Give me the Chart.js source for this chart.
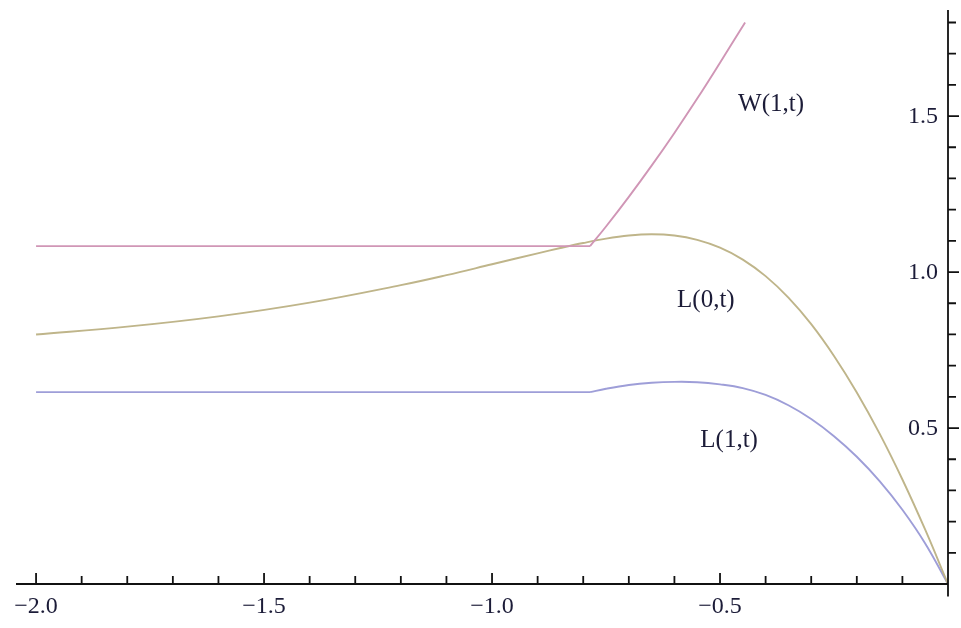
<!DOCTYPE html>
<html>
<head>
<meta charset="utf-8">
<script src="https://cdn.jsdelivr.net/npm/chart.js@4.4.1/dist/chart.umd.min.js"></script>
<style>
  html, body { margin: 0; padding: 0; background: #fff; }
  #wrap { width: 961px; height: 628px; }
</style>
</head>
<body>
<div id="wrap"><canvas id="chart"></canvas></div>
<script>
// W(1,t): constant branch, then the rising branch after the switch point
var wFlatT = [-2.0, -0.785];
var wFlatY = [1.083, 1.083];
var wRiseT = [-0.785, -0.75, -0.7, -0.65, -0.6, -0.55, -0.5, -0.445];
var wRiseY = [1.083, 1.146, 1.241, 1.341, 1.446, 1.556, 1.671, 1.80];

// L(0,t)
var l0T = [-2.0, -1.8, -1.6, -1.4, -1.2, -1.1, -1.0, -0.9, -0.85, -0.8, -0.75, -0.7, -0.65, -0.6, -0.55,
           -0.5, -0.45, -0.4, -0.35, -0.3, -0.25, -0.2, -0.15, -0.1, -0.05, 0];
var l0Y = [0.800, 0.825, 0.858, 0.902, 0.958, 0.990, 1.025, 1.060, 1.077, 1.093, 1.107, 1.117, 1.121, 1.117, 1.103,
           1.078, 1.040, 0.987, 0.918, 0.833, 0.731, 0.614, 0.482, 0.335, 0.174, 0];

// L(1,t): flat part, then the bump down to zero
var l1FlatT = [-2.0, -0.785];
var l1FlatY = [0.615, 0.615];
var l1CurveT = [-0.785, -0.75, -0.7, -0.65, -0.6, -0.55, -0.5, -0.45, -0.4, -0.35, -0.3, -0.25, -0.2, -0.15, -0.1, -0.05, 0];
var l1CurveY = [0.615, 0.626, 0.638, 0.645, 0.648, 0.647, 0.640, 0.628, 0.606, 0.573, 0.529, 0.474, 0.408, 0.330, 0.238, 0.130, 0];

// axis ticks
var xMajor = [-2.0, -1.5, -1.0, -0.5];
var xLabels = ['\u22122.0', '\u22121.5', '\u22121.0', '\u22120.5'];
var yMajor = [0.5, 1.0, 1.5];
var yLabels = ['0.5', '1.0', '1.5'];

// curve names and where they sit (data coords)
var curveNames = ['W(1,t)', 'L(0,t)', 'L(1,t)'];
var curveNameX = [-0.388, -0.531, -0.48];
var curveNameY = [1.538, 0.91, 0.46];

var colW = '#d096b6';
var colL0 = '#bfb58a';
var colL1 = '#9e9ed8';

function pts(ts, ys) {
  return ts.map(function (t, i) { return { x: t, y: ys[i] }; });
}

function line(ts, ys, color) {
  return {
    data: pts(ts, ys),
    borderColor: color,
    borderWidth: 1.9,
    pointRadius: 0,
    fill: false,
    tension: 0.4
  };
}

var tickFont = '24px "Liberation Serif", "DejaVu Serif", serif';
var nameFont = '25px "Liberation Serif", "DejaVu Serif", serif';

// axes crossing at the origin, Mathematica style
var crossAxes = {
  id: 'crossAxes',
  afterDraw: function (chart) {
    var ctx = chart.ctx, xs = chart.scales.x, ys = chart.scales.y, area = chart.chartArea;
    var x0 = xs.getPixelForValue(0), y0 = ys.getPixelForValue(0);
    var i, v, p;
    ctx.save();
    ctx.strokeStyle = '#111';
    ctx.lineWidth = 1.8;
    ctx.beginPath();
    ctx.moveTo(area.left, y0);
    ctx.lineTo(x0, y0);
    ctx.moveTo(x0, area.top);
    ctx.lineTo(x0, area.bottom);
    // x ticks every 0.1, longer at the labelled ones
    for (i = -20; i < 0; i++) {
      v = i / 10;
      p = xs.getPixelForValue(v);
      ctx.moveTo(p, y0);
      ctx.lineTo(p, y0 - (i % 5 === 0 ? 11 : 8));
    }
    // y ticks every 0.1 up to 1.8
    for (i = 1; i <= 18; i++) {
      v = i / 10;
      p = ys.getPixelForValue(v);
      ctx.moveTo(x0, p);
      ctx.lineTo(x0 + (i % 5 === 0 ? 11 : 8), p);
    }
    ctx.stroke();

    ctx.fillStyle = '#1c1c38';
    ctx.font = tickFont;
    ctx.textAlign = 'center';
    ctx.textBaseline = 'middle';
    xMajor.forEach(function (val, k) {
      ctx.fillText(xLabels[k], xs.getPixelForValue(val), y0 + 23);
    });
    ctx.textAlign = 'right';
    yMajor.forEach(function (val, k) {
      ctx.fillText(yLabels[k], x0 - 10, ys.getPixelForValue(val) + 1);
    });
    ctx.font = nameFont;
    ctx.textAlign = 'center';
    curveNames.forEach(function (name, k) {
      ctx.fillText(name, xs.getPixelForValue(curveNameX[k]), ys.getPixelForValue(curveNameY[k]));
    });
    ctx.restore();
  }
};

new Chart(document.getElementById('chart').getContext('2d'), {
  type: 'line',
  data: {
    datasets: [
      line(wFlatT, wFlatY, colW),
      line(wRiseT, wRiseY, colW),
      line(l0T, l0Y, colL0),
      line(l1FlatT, l1FlatY, colL1),
      line(l1CurveT, l1CurveY, colL1)
    ]
  },
  options: {
    responsive: true,
    maintainAspectRatio: false,
    animation: false,
    layout: { padding: { left: 16, right: 13, top: 10, bottom: 31.5 } },
    plugins: {
      legend: { display: false },
      tooltip: { enabled: false }
    },
    scales: {
      x: { type: 'linear', min: -2.044, max: 0, display: false },
      y: { type: 'linear', min: -0.04, max: 1.84, display: false }
    }
  },
  plugins: [crossAxes]
});
</script>
</body>
</html>
